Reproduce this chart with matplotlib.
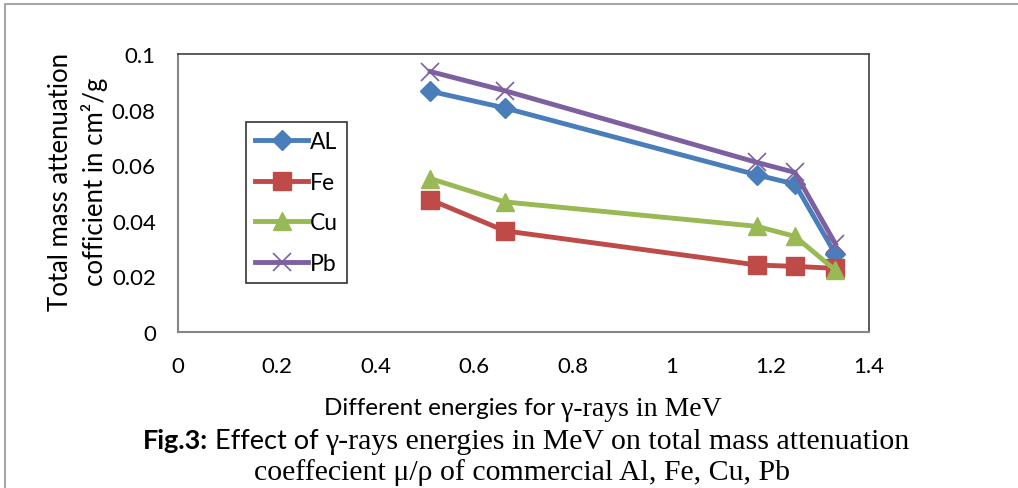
import matplotlib
matplotlib.use("Agg")
import matplotlib.pyplot as plt
from matplotlib.font_manager import FontProperties
from matplotlib.lines import Line2D

# gamma energies (MeV) and mass attenuation coefficients (cm2/g)
energies = [0.511, 0.662, 1.173, 1.25, 1.332]
al = [0.0866, 0.0806, 0.0565, 0.0532, 0.0280]
fe = [0.0476, 0.0364, 0.0241, 0.0236, 0.0229]
cu = [0.0552, 0.0468, 0.0380, 0.0344, 0.0222]
pb = [0.0937, 0.0868, 0.0610, 0.0574, 0.0317]
labels = ["AL", "Fe", "Cu", "Pb"]

x_ticks = [0, 0.2, 0.4, 0.6, 0.8, 1, 1.2, 1.4]
y_ticks = [0, 0.02, 0.04, 0.06, 0.08, 0.1]

W, H = 1018, 489
fig = plt.figure(figsize=(W / 100, H / 100), dpi=100)
ax = fig.add_axes([178 / W, 1 - 333 / H, (869 - 178) / W, (333 - 55) / H])

tick_font = FontProperties(family="Lato", size=16)
leg_font = FontProperties(family="Lato", size=16.5)
ylab_font = FontProperties(family="Lato", size=18.5)
sans = FontProperties(family="Lato", size=17.5)
serif = FontProperties(family="Liberation Serif", size=20)

styles = [
    dict(color="#4A7EBB", marker="D", ms=10),
    dict(color="#BE4B48", marker="s", ms=13),
    dict(color="#98B954", marker="^", ms=13),
    dict(color="#7D60A0", marker="x", ms=13, mew=1.2),
]
for vals, lab, st in zip([al, fe, cu, pb], labels, styles):
    ax.plot(energies, vals, lw=3.5, label=lab, clip_on=False, **st)

ax.set_xlim(0, 1.4)
ax.set_ylim(0, 0.1)
ax.set_xticks(x_ticks)
ax.set_xticklabels([f"{t:g}" for t in x_ticks], fontproperties=tick_font)
ax.set_yticks(y_ticks)
ax.set_yticklabels([f"{t:g}" for t in y_ticks], fontproperties=tick_font)
ax.tick_params(axis="y", length=0, pad=16)
ax.tick_params(axis="x", length=0, pad=17)
for side in ["left", "bottom"]:
    ax.spines[side].set_color("#868686")
    ax.spines[side].set_linewidth(1.5)
for side in ["top", "right"]:
    ax.spines[side].set_color("#404040")
    ax.spines[side].set_linewidth(1.2)

leg = ax.legend(loc="upper left", bbox_to_anchor=((246 - 178) / 691, (333 - 123) / 278),
                prop=leg_font, frameon=True, fancybox=False, borderpad=0.4,
                handlelength=2.3, handletextpad=0.1, labelspacing=0.85,
                borderaxespad=0)
leg.get_frame().set_edgecolor("black")
leg.get_frame().set_linewidth(1.2)

# y label, two lines
fig.text(78 / W, 1 - 182 / H, "Total mass attenuation\ncofficient in cm\u00b2/g",
         rotation=90, ha="center", va="center", multialignment="center",
         fontproperties=ylab_font, linespacing=1.35)

# chart area border (only top and left visible)
fig.add_artist(Line2D([5 / W, 5 / W, 1], [0, 1 - 5 / H, 1 - 5 / H],
                      transform=fig.transFigure, color="#a6a6a6", lw=1.5))

fig.canvas.draw()
renderer = fig.canvas.get_renderer()


def mixed_line(parts, xc, yc):
    # draw text segments with different fonts centred at pixel xc, yc
    widths = []
    for txt, fp in parts:
        t = fig.text(0, 0, txt, fontproperties=fp)
        widths.append(t.get_window_extent(renderer).width)
        t.remove()
    x = xc - sum(widths) / 2
    for (txt, fp), w in zip(parts, widths):
        fig.text(x / W, 1 - yc / H, txt, fontproperties=fp, ha="left", va="center_baseline")
        x += w


mixed_line([("Different energies for ", sans), ("\u03b3-rays in MeV", serif)], 523, 407)
mixed_line([("Fig.3:", FontProperties(family="Lato", size=19.5, weight="bold")),
            (" Effect of ", FontProperties(family="Lato", size=19.5)),
            ("\u03b3-rays energies in MeV on total mass attenuation",
             FontProperties(family="Liberation Serif", size=21.5))],
           526, 439)
mixed_line([("coeffecient \u03bc/\u03c1 of commercial Al, Fe, Cu, Pb",
             FontProperties(family="Liberation Serif", size=21.5))],
           522, 470)

fig.savefig("out.png", dpi=100)
